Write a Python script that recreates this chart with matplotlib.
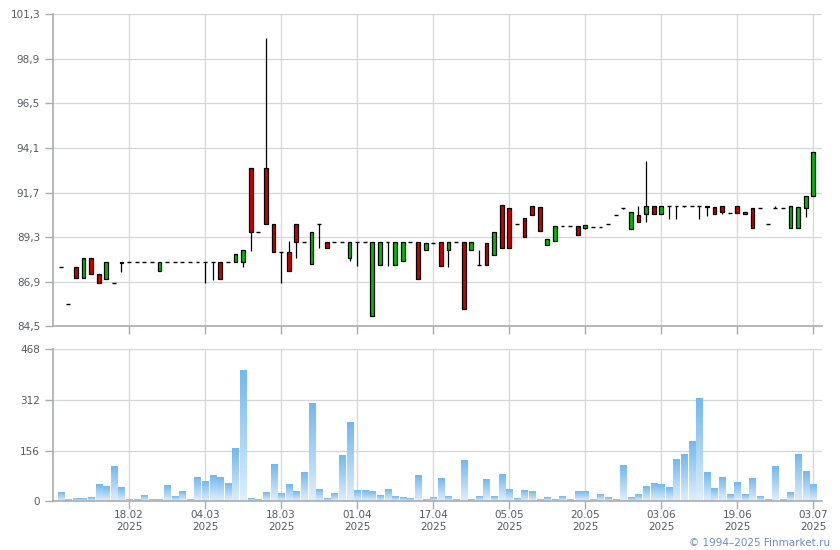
import matplotlib
matplotlib.use('Agg')
import matplotlib.pyplot as plt
import numpy as np
from matplotlib.colors import LinearSegmentedColormap

# Daily OHLC prices (one entry per trading day with deals)
opens = [
    87.7, 85.7, 87.7, 87.08, 88.16, 87.3, 87.03, 86.81, 87.89, 87.98,
    87.98, 87.98, 87.98, 87.5, 87.98, 87.98, 87.98, 87.98, 87.98, 87.98,
    87.98, 87.98, 87.98, 87.98, 87.98, 93.01, 89.56, 93.01, 89.99, 88.48,
    88.48, 89.99, 89.02, 87.84, 89.99, 89.02, 89.02, 89.02, 88.2, 89.02,
    89.02, 85.04, 87.78, 89.02, 87.78, 88.0, 89.02, 89.02, 88.59, 88.97,
    89.02, 88.59, 89.02, 89.02, 88.59, 87.78, 88.97, 88.32, 91.01, 90.85,
    89.99, 90.31, 90.96, 90.91, 88.86, 89.08, 89.88, 89.88, 89.88, 89.81,
    89.83, 89.83, 89.99, 90.48, 90.89, 89.72, 90.48, 90.53, 91.0, 90.53,
    91.0, 91.0, 91.0, 91.0, 91.0, 91.0, 90.91, 91.0, 90.58, 91.0,
    90.53, 90.85, 90.85, 89.99, 90.85, 90.85, 89.78, 89.78, 90.85, 91.5,
]
closes = [
    87.7, 85.7, 87.1, 88.16, 87.3, 86.81, 87.98, 86.81, 87.98, 87.98,
    87.98, 87.98, 87.98, 87.98, 87.98, 87.98, 87.98, 87.98, 87.98, 87.98,
    87.98, 87.03, 87.98, 88.38, 88.61, 89.56, 89.56, 89.99, 88.48, 88.48,
    87.5, 89.02, 89.02, 89.56, 89.99, 88.7, 89.02, 89.02, 89.02, 89.02,
    89.02, 89.02, 89.02, 89.02, 89.02, 89.02, 89.02, 87.03, 88.97, 88.97,
    87.73, 89.02, 89.02, 85.41, 89.02, 87.78, 87.78, 89.56, 88.7, 88.7,
    89.99, 89.29, 90.48, 89.61, 89.18, 89.88, 89.88, 89.88, 89.4, 89.94,
    89.83, 89.83, 89.99, 90.48, 90.89, 90.64, 90.1, 91.0, 90.53, 91.0,
    91.0, 91.0, 91.0, 91.0, 91.0, 90.9, 90.53, 90.67, 90.58, 90.62,
    90.64, 89.78, 90.85, 89.99, 90.85, 90.85, 91.0, 90.91, 91.5, 93.87,
]
highs = [
    87.7, 85.7, 87.7, 88.16, 88.16, 87.3, 87.98, 86.81, 87.98, 87.98,
    87.98, 87.98, 87.98, 87.98, 87.98, 87.98, 87.98, 87.98, 87.98, 87.98,
    87.98, 87.98, 87.98, 88.38, 88.61, 93.01, 89.56, 100.01, 89.99, 88.48,
    89.1, 89.99, 89.02, 89.56, 89.99, 89.02, 89.02, 89.02, 89.02, 89.02,
    89.02, 89.02, 89.02, 89.02, 89.02, 89.02, 89.02, 89.02, 88.97, 88.97,
    89.02, 89.02, 89.02, 89.02, 89.02, 88.6, 88.97, 89.56, 91.01, 90.85,
    89.99, 90.31, 90.96, 90.91, 89.18, 89.88, 89.88, 89.88, 89.88, 89.94,
    89.83, 89.83, 89.99, 90.48, 90.89, 90.64, 91.0, 93.38, 91.0, 91.0,
    91.0, 91.0, 91.0, 91.0, 91.0, 91.0, 90.91, 91.0, 90.58, 91.0,
    90.64, 90.85, 90.85, 89.99, 90.96, 90.85, 91.0, 90.91, 91.5, 93.87,
]
lows = [
    87.7, 85.7, 87.1, 87.08, 87.3, 86.81, 87.03, 86.81, 87.44, 87.98,
    87.98, 87.98, 87.98, 87.5, 87.98, 87.98, 87.98, 87.98, 87.98, 86.85,
    87.0, 87.03, 87.98, 87.98, 87.68, 88.57, 89.56, 89.99, 88.48, 86.85,
    87.5, 88.2, 89.02, 87.84, 88.7, 88.7, 89.02, 89.02, 88.03, 87.77,
    89.02, 85.04, 87.78, 87.77, 87.78, 88.0, 89.02, 87.03, 88.59, 88.97,
    87.73, 87.72, 89.02, 85.41, 88.59, 87.78, 87.78, 88.32, 88.7, 88.7,
    89.99, 89.29, 90.48, 89.61, 88.86, 89.08, 89.88, 89.88, 89.4, 89.76,
    89.83, 89.83, 89.99, 90.48, 90.8, 89.72, 90.1, 90.1, 90.53, 90.53,
    90.26, 90.3, 90.95, 91.0, 90.3, 90.42, 90.53, 90.53, 90.58, 90.62,
    90.53, 89.78, 90.85, 89.99, 90.85, 90.85, 89.78, 89.78, 90.36, 91.5,
]
volumes = [
    26, 4, 7, 7, 10, 50, 44, 106, 41, 4,
    4, 16, 4, 4, 47, 13, 29, 4, 72, 60,
    78, 72, 53, 161, 401, 7, 4, 26, 112, 23,
    50, 29, 87, 300, 35, 7, 23, 140, 241, 32,
    32, 29, 16, 35, 13, 10, 7, 78, 4, 10,
    69, 13, 4, 124, 4, 13, 66, 13, 81, 35,
    7, 32, 29, 4, 10, 4, 13, 4, 29, 29,
    4, 19, 10, 4, 109, 10, 19, 44, 53, 50,
    41, 127, 143, 183, 315, 87, 38, 72, 19, 56,
    19, 69, 13, 4, 106, 4, 26, 143, 90, 50,
]

date_labels = ['18.02', '04.03', '18.03', '01.04', '17.04',
               '05.05', '20.05', '03.06', '19.06', '03.07']
year_label = '2025'
price_ticks = [84.5, 86.9, 89.3, 91.7, 94.1, 96.5, 98.9, 101.3]
volume_ticks = [0, 156, 312, 468]

o = np.array(opens)
c = np.array(closes)
x = np.arange(len(o))
tick_pos = x[9::10]

grid_col = '#d3d6da'
spine_col = '#a9abb3'
text_col = '#555a60'

fig = plt.figure(figsize=(8.4, 5.5), dpi=100)
ax1 = fig.add_axes([53.3 / 840, 1 - 326.3 / 550, 768.4 / 840, 312 / 550])
ax2 = fig.add_axes([53.3 / 840, 1 - 501.3 / 550, 768.4 / 840, 152 / 550])

# candles
ax1.vlines(x, lows, highs, color='black', lw=0.9, zorder=2)
moving = c != o
body_col = np.where(c > o, '#00bb00', '#cc0000')
ax1.bar(x[moving], np.abs(c - o)[moving], bottom=np.minimum(o, c)[moving],
        width=0.5, color=body_col[moving], edgecolor='black', lw=0.9, zorder=3)
ax1.hlines(o[~moving], x[~moving] - 0.25, x[~moving] + 0.25,
           color='black', lw=1.0, zorder=3)

# volume bars with vertical gradient
cmap = LinearSegmentedColormap.from_list('vol', ['#e0eefb', '#72b8ef'])
grad = np.linspace(0, 1, 64).reshape(-1, 1)
for xi, v in zip(x, volumes):
    ax2.imshow(grad, extent=(xi - 0.4, xi + 0.4, 0, v), origin='lower',
               cmap=cmap, aspect='auto', zorder=2, interpolation='bilinear')

for ax in (ax1, ax2):
    ax.set_xlim(-0.97, 100.1)
    ax.set_axisbelow(True)
    ax.grid(True, color=grid_col, lw=0.9)
    for s in ('top', 'right'):
        ax.spines[s].set_visible(False)
    for s in ('left', 'bottom'):
        ax.spines[s].set_color(spine_col)
        ax.spines[s].set_linewidth(1.2)
    ax.tick_params(colors=spine_col, labelcolor=text_col, labelsize=7.5,
                   length=6, width=1.0)
    ax.set_xticks(tick_pos)

ax1.set_ylim(84.5, 101.3)
ax1.set_yticks(price_ticks)
ax1.set_yticklabels([f'{t:.1f}'.replace('.', ',') for t in price_ticks])
ax1.set_xticklabels([])

ax2.set_ylim(0, 468)
ax2.set_yticks(volume_ticks)
ax2.set_xticklabels([f'{d}\n{year_label}' for d in date_labels], linespacing=1.25)
ax2.tick_params(axis='x', pad=0.5)

fig.text(0.988, 0.013, '\u00a9 1994\u20132025 Finmarket.ru', ha='right', va='center',
         color='#6a8ccc', fontsize=7.5)

fig.savefig('out.png', dpi=100)
